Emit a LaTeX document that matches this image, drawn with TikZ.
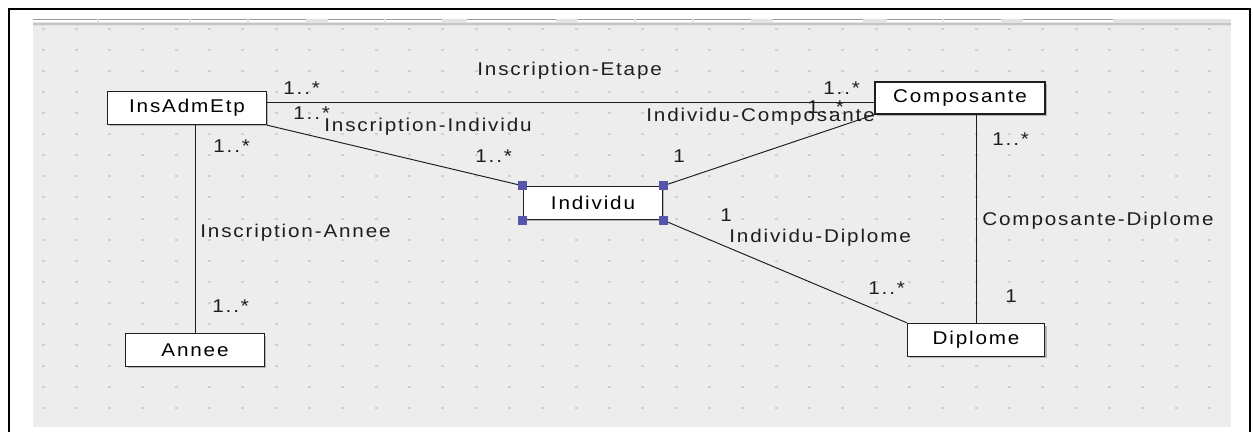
\documentclass[tikz,border=0pt]{standalone}
\usepackage{fontspec}
\usepackage{tikz}
\usetikzlibrary{shadows}
\newfontfamily\umlfont[FakeStretch=1.12, LetterSpace=10]{Liberation Sans}
\definecolor{canvas}{RGB}{237,237,237}
\definecolor{dotc}{RGB}{208,208,208}
\definecolor{hndl}{RGB}{85,85,170}
\definecolor{ink}{RGB}{30,30,30}
\tikzset{cls/.style={draw=ink, line width=0.8pt, fill=white, inner sep=0pt, minimum height=0.66cm,
            font=\umlfont\fontsize{10.5pt}{12pt}\selectfont,
            drop shadow={shadow xshift=0.04cm, shadow yshift=-0.04cm, fill=gray!70, opacity=0.8}},
        lbl/.style={anchor=base west, inner sep=0pt, text=ink, font=\umlfont\fontsize{10.5pt}{12pt}\selectfont},
        hdl/.style={fill=hndl, inner sep=0pt, minimum size=0.18cm},
        assoc/.style={draw=ink, line width=0.55pt}}
\begin{document}
\begin{tikzpicture}[x=0.02cm, y=-0.02cm]
    \useasboundingbox (0,0) rectangle (1253,432);
    \fill[white] (0,0) rectangle (1253,432);
    % window frame and drawing canvas
    \draw[line width=1.2pt] (9,432) -- (9,9) -- (1250,9) -- (1250,432);
    \fill[canvas] (33,26) rectangle (1231,427);
    \fill[gray!22] (33,19) rectangle (1231,26);
    \fill[gray!45] (33,23.5) rectangle (1231,25.5);
    \foreach \a/\b in {33/97, 99/189, 191/247, 249/306, 328/384, 386/442, 467/556, 578/634,
                       636/692, 694/751, 773/863, 887/942, 944/1001, 1023/1113} {
      \fill[white] (\a,19) rectangle (\b,22.5);
      \draw[gray!80, line width=0.5pt] (\a,19.5) -- (\b,19.5);
    }
    % grid of dots
    \foreach \i in {0,...,35}
      \foreach \j in {0,...,18}
        \fill[dotc] ({41.5+33.33*\i},{28+21.06*\j}) rectangle ++(3,2);

    % classes
    \node[cls, minimum width=3.18cm] (InsAdmEtp) at (187,108) {InsAdmEtp};
    \node[cls, minimum width=3.40cm, minimum height=0.64cm] (Composante) at (960,98) {Composante};
    \node[cls, minimum width=2.78cm] (Individu) at (593,203) {Individu};
    \node[cls, minimum width=2.78cm] (Annee) at (195,350) {Annee};
    \node[cls, minimum width=2.74cm] (Diplome) at (976,340) {Diplome};

    % associations
    \draw[assoc] (InsAdmEtp.east |- 0,102) -- (Composante.west |- 0,102);
    \draw[assoc] (InsAdmEtp.south east) -- (Individu.north west);
    \draw[assoc] (Individu.north east) -- (Composante.south west);
    \draw[assoc] (Individu.south east) -- (Diplome.north west);
    \draw[assoc] (Annee.north |- InsAdmEtp.south) -- (Annee.north);
    \draw[assoc] (Diplome.north |- Composante.south) -- (Diplome.north);

    % selection handles
    \foreach \c/\n in {north west/nw, north east/ne, south west/sw, south east/se}
      \node[hdl] (Individu-\n) at (Individu.\c) {};

    % role names and multiplicities
    \foreach \x/\y/\t/\n in {477/76/Inscription-Etape/etape, 283/95/1..*/etape-a, 823/95/1..*/etape-b,
                             324/132/Inscription-Individu/insind, 293/120/1..*/insind-a, 475/163/1..*/insind-b,
                             646/122/Individu-Composante/indcomp, 673/163/1/indcomp-a, 807/114/1..*/indcomp-b,
                             729/242/Individu-Diplome/inddip, 720/221/1/inddip-a, 868/294/1..*/inddip-b,
                             982/225/Composante-Diplome/compdip, 992/146/1..*/compdip-a, 1005/302/1/compdip-b,
                             200/237/Inscription-Annee/insann, 213/153/1..*/insann-a, 212/312/1..*/insann-b}
      \node[lbl] (\n) at (\x,\y) {\t};
\end{tikzpicture}
\end{document}
